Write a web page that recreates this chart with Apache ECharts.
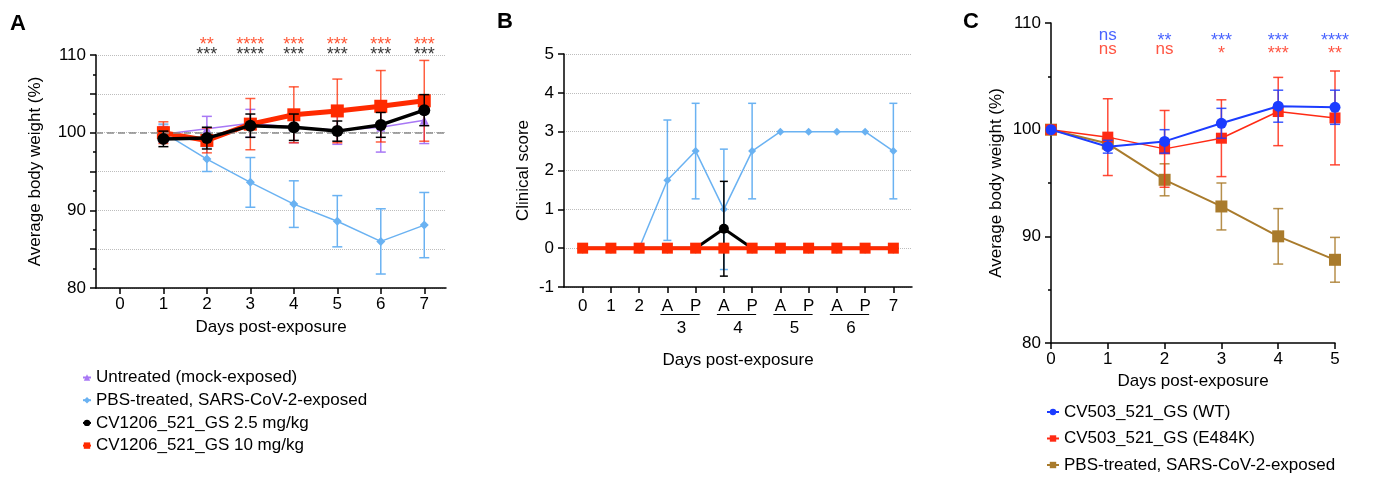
<!DOCTYPE html>
<html>
<head>
<meta charset="utf-8">
<script src="https://cdn.jsdelivr.net/npm/echarts@6/dist/echarts.min.js"></script>
<style>
  html, body { margin: 0; padding: 0; background: #fff; }
  #chart { width: 1374px; height: 478px; }
</style>
</head>
<body>
<div id="chart"></div>
<script>
// ---- panel A : body weight, CV1206_521_GS ----
const daysA = [1, 2, 3, 4, 5, 6, 7];
const tickDaysA = [0, 1, 2, 3, 4, 5, 6, 7];
const untreatedA = [99.8, 100.5, 101.2, 100.7, 100.3, 100.7, 101.6];
const untreatedErrA = [1.0, 1.6, 1.8, 2.0, 1.8, 3.2, 3.0];
const pbsA = [100.0, 96.6, 93.6, 90.8, 88.6, 86.0, 88.1];
const pbsErrA = [1.1, 1.6, 3.2, 3.0, 3.3, 4.2, 4.2];
const lowDoseA = [99.2, 99.3, 100.9, 100.7, 100.2, 101.0, 102.9];
const lowDoseErrA = [1.0, 1.4, 1.5, 1.7, 1.3, 1.6, 2.0];
const highDoseA = [100.0, 99.0, 101.1, 102.3, 102.8, 103.4, 104.1];
const highDoseErrA = [1.4, 1.6, 3.3, 3.6, 4.1, 4.6, 5.2];
const sigDaysA = [2, 3, 4, 5, 6, 7];
const sigHighA = ['**', '****', '***', '***', '***', '***'];
const sigLowA = ['***', '****', '***', '***', '***', '***'];

// ---- panel B : clinical score ----
const ticksB = ['0', '1', '2', 'A', 'P', 'A', 'P', 'A', 'P', 'A', 'P', '7'];
const dayGroupStartB = [3, 5, 7, 9];
const dayGroupLabelB = ['3', '4', '5', '6'];
const untreatedB = [0, 0, 0, 0, 0, 0, 0, 0, 0, 0, 0, 0];
const pbsB = [0, 0, 0, 1.75, 2.5, 1.0, 2.5, 3, 3, 3, 3, 2.5];
const pbsErrB = [0, 0, 0, 1.55, 1.23, 1.55, 1.23, 0, 0, 0, 0, 1.23];
const lowDoseB = [0, 0, 0, 0, 0, 0.5, 0, 0, 0, 0, 0, 0];
const lowDoseErrB = [0, 0, 0, 0, 0, 1.22, 0, 0, 0, 0, 0, 0];
const highDoseB = [0, 0, 0, 0, 0, 0, 0, 0, 0, 0, 0, 0];

// ---- panel C : body weight, CV503_521_GS ----
const daysC = [0, 1, 2, 3, 4, 5];
const wtC = [100.0, 98.4, 98.9, 100.6, 102.2, 102.1];
const wtErrC = [0, 0.6, 1.1, 1.4, 1.5, 1.6];
const e484kC = [100.0, 99.3, 98.2, 99.2, 101.7, 101.1];
const e484kErrC = [0, 3.6, 3.6, 3.6, 3.2, 4.4];
const pbsC = [100.0, 98.7, 95.3, 92.8, 90.0, 87.8];
const pbsErrC = [0, 0.4, 1.5, 2.2, 2.6, 2.1];
const sigDaysC = [1, 2, 3, 4, 5];
const sigWtC = ['ns', '**', '***', '***', '****'];
const sigE484kC = ['ns', 'ns', '*', '***', '**'];

const FONT = 'Liberation Sans';
const txt = { fontFamily: FONT, fontSize: 17, color: '#000' };
const axisLineStyle = { color: '#000', width: 1.5 };

const PURPLE = '#a878f5', LBLUE = '#6ab2f2', BLACK = '#000', RED = '#ff2a00';
const BLUE = '#1c3cff', CRED = '#ff2a14', BROWN = '#a97b2c';

const chart = echarts.init(document.getElementById('chart'));

function pts(xs, ys) {
  return xs.map((x, i) => [x, ys[i]]);
}

// vertical error bars with caps
function errorBars(name, xs, means, errs, color, axis, capW, width, z, opacity) {
  const data = [];
  xs.forEach((x, i) => {
    if (errs[i] > 0) data.push([x, means[i] - errs[i], means[i] + errs[i]]);
  });
  return {
    type: 'custom', name: name + ' err', xAxisIndex: axis, yAxisIndex: axis,
    data: data, z: z, silent: true, encode: { x: 0, y: [1, 2] },
    renderItem: function (params, api) {
      const lo = api.coord([api.value(0), api.value(1)]);
      const hi = api.coord([api.value(0), api.value(2)]);
      const style = { stroke: color, lineWidth: width, opacity: opacity || 1 };
      return {
        type: 'group', children: [
          { type: 'line', shape: { x1: lo[0], y1: lo[1], x2: hi[0], y2: hi[1] }, style: style },
          { type: 'line', shape: { x1: lo[0] - capW / 2, y1: lo[1], x2: lo[0] + capW / 2, y2: lo[1] }, style: style },
          { type: 'line', shape: { x1: hi[0] - capW / 2, y1: hi[1], x2: hi[0] + capW / 2, y2: hi[1] }, style: style }
        ]
      };
    }
  };
}

function lineSeries(name, xs, ys, color, axis, symbol, size, width, z) {
  return {
    type: 'line', name: name, xAxisIndex: axis, yAxisIndex: axis,
    data: pts(xs, ys), symbol: symbol, symbolSize: size, clip: false,
    lineStyle: { color: color, width: width }, itemStyle: { color: color, opacity: 1 },
    z: z, animation: false
  };
}

// significance labels, placed relative to a given y value
function sigSeries(xs, texts, yVal, color, axis, nsShift, starShift) {
  return {
    type: 'scatter', xAxisIndex: axis, yAxisIndex: axis, symbolSize: 0, clip: false, silent: true,
    data: xs.map((x, i) => {
      const star = texts[i].charAt(0) === '*';
      return {
        value: [x, yVal],
        label: {
          show: true, formatter: texts[i], color: color, fontFamily: FONT,
          fontSize: star ? 18 : 17, position: 'inside',
          offset: [0, star ? starShift : nsShift]
        }
      };
    }),
    z: 10
  };
}

function valueX(grid, min, max, ticks, fmt, name, nameGap, margin) {
  return {
    gridIndex: grid, type: 'value', min: min, max: max,
    axisLine: { show: true, onZero: false, lineStyle: axisLineStyle },
    axisTick: { show: true, length: 6, customValues: ticks, lineStyle: axisLineStyle },
    axisLabel: Object.assign({ customValues: ticks, margin: margin, formatter: fmt }, txt),
    splitLine: { show: false },
    name: name, nameLocation: 'middle', nameGap: nameGap, nameTextStyle: txt
  };
}

const LA = 'Untreated (mock-exposed)';
const LB = 'PBS-treated, SARS-CoV-2-exposed';
const LC = 'CV1206_521_GS 2.5 mg/kg';
const LD = 'CV1206_521_GS 10 mg/kg';
const LE = 'CV503_521_GS (WT)';
const LF = 'CV503_521_GS (E484K)';
const LG = 'PBS-treated, SARS-CoV-2-exposed ';

const option = {
  backgroundColor: '#fff',
  animation: false,
  title: [
    { text: 'A', left: 5, top: 8, textStyle: { fontFamily: FONT, fontSize: 22, fontWeight: 'bold', color: '#000' } },
    { text: 'B', left: 492, top: 6, textStyle: { fontFamily: FONT, fontSize: 22, fontWeight: 'bold', color: '#000' } },
    { text: 'C', left: 958, top: 6, textStyle: { fontFamily: FONT, fontSize: 22, fontWeight: 'bold', color: '#000' } }
  ],
  grid: [
    { left: 96, top: 55, width: 350, height: 233, outerBoundsMode: 'none' },
    { left: 564, top: 54, width: 348, height: 233, outerBoundsMode: 'none' },
    { left: 1051, top: 23, width: 284, height: 320, outerBoundsMode: 'none' }
  ],
  legend: [
    {
      orient: 'vertical', left: 82, top: 369, padding: 0, itemWidth: 8, itemHeight: 8, itemGap: 5.7,
      height: 108, selectedMode: false, data: [LA, LB, LC, LD],
      textStyle: Object.assign({ lineHeight: 17 }, txt)
    },
    {
      orient: 'vertical', left: 1046, top: 403.5, padding: 0, itemWidth: 12, itemHeight: 8, itemGap: 9.5,
      height: 74, selectedMode: false, data: [LE, LF, LG],
      textStyle: Object.assign({ lineHeight: 17 }, txt)
    }
  ],
  xAxis: [
    valueX(0, -0.55, 7.5, tickDaysA, v => String(Math.round(v)), 'Days post-exposure', 31, 8),
    valueX(1, -0.66, 11.66, ticksB.map((t, i) => i), v => ticksB[Math.round(v)], 'Days post-exposure', 65, 11),
    valueX(2, 0, 5, daysC, v => String(Math.round(v)), 'Days post-exposure', 29, 8)
  ],
  yAxis: [
    {
      gridIndex: 0, type: 'value', min: 80, max: 110, interval: 5,
      axisLine: { show: true, onZero: false, lineStyle: axisLineStyle },
      axisTick: { show: true, length: 6, lineStyle: axisLineStyle },
      minorTick: { show: true, splitNumber: 2, length: 3, lineStyle: axisLineStyle },
      axisLabel: Object.assign({ margin: 10, formatter: v => (v % 10 === 0 ? String(v) : '') }, txt),
      splitLine: { show: true, lineStyle: { type: 'dotted', color: '#bdbdbd', width: 1 } },
      name: 'Average body weight (%)', nameLocation: 'middle', nameGap: 52, nameTextStyle: txt
    },
    {
      gridIndex: 1, type: 'value', min: -1, max: 5, interval: 1,
      axisLine: { show: true, onZero: false, lineStyle: axisLineStyle },
      axisTick: { show: true, length: 6, lineStyle: axisLineStyle },
      axisLabel: Object.assign({ margin: 10 }, txt),
      splitLine: { show: true, lineStyle: { type: 'dotted', color: '#bdbdbd', width: 1 } },
      name: 'Clinical score', nameLocation: 'middle', nameGap: 32, nameTextStyle: txt
    },
    {
      gridIndex: 2, type: 'value', min: 80, max: 110, interval: 10,
      axisLine: { show: true, onZero: false, lineStyle: axisLineStyle },
      axisTick: { show: true, length: 6, lineStyle: axisLineStyle },
      minorTick: { show: true, splitNumber: 2, length: 3, lineStyle: axisLineStyle },
      axisLabel: Object.assign({ margin: 10 }, txt),
      splitLine: { show: false },
      name: 'Average body weight (%)', nameLocation: 'middle', nameGap: 46, nameTextStyle: txt
    }
  ],
  series: [
    // ---- A ----
    Object.assign(lineSeries('A ref', tickDaysA, tickDaysA.map(() => null), '#888', 0, 'none', 0, 1, 1), {
      markLine: {
        silent: true, symbol: 'none', label: { show: false },
        lineStyle: { type: [7, 4], color: '#8a8a8a', width: 1.5 },
        data: [{ yAxis: 100 }]
      }
    }),
    errorBars(LA, daysA, untreatedA, untreatedErrA, PURPLE, 0, 10, 1.5, 2),
    lineSeries(LA, daysA, untreatedA, PURPLE, 0, 'triangle', 9, 1.5, 2),
    errorBars(LB, daysA, pbsA, pbsErrA, LBLUE, 0, 10, 1.5, 3),
    lineSeries(LB, daysA, pbsA, LBLUE, 0, 'diamond', 9, 1.5, 3),
    errorBars(LD, daysA, highDoseA, highDoseErrA, RED, 0, 10, 1.5, 4, 0.75),
    lineSeries(LD, daysA, highDoseA, RED, 0, 'rect', 13, 5, 4),
    errorBars(LC, daysA, lowDoseA, lowDoseErrA, BLACK, 0, 10, 1.5, 5),
    lineSeries(LC, daysA, lowDoseA, BLACK, 0, 'circle', 12, 3.5, 5),
    sigSeries(sigDaysA, sigHighA, 110, RED, 0, -10, -10),
    sigSeries(sigDaysA, sigLowA, 110, BLACK, 0, 0, 0),

    // ---- B ----
    lineSeries('B untreated', ticksB.map((t, i) => i), untreatedB, PURPLE, 1, 'triangle', 7, 1.5, 2),
    errorBars('B pbs', ticksB.map((t, i) => i), pbsB, pbsErrB, LBLUE, 1, 8, 1.5, 3),
    lineSeries('B pbs', ticksB.map((t, i) => i), pbsB, LBLUE, 1, 'diamond', 8, 1.5, 3),
    errorBars('B low', ticksB.map((t, i) => i), lowDoseB, lowDoseErrB, BLACK, 1, 8, 1.5, 4),
    lineSeries('B low', ticksB.map((t, i) => i), lowDoseB, BLACK, 1, 'circle', 10, 3, 4),
    lineSeries('B high', ticksB.map((t, i) => i), highDoseB, RED, 1, 'rect', 11, 4, 5),
    {
      type: 'custom', xAxisIndex: 1, yAxisIndex: 1, silent: true, z: 6,
      data: dayGroupStartB.map(s => [s, s + 1]), encode: { x: [0, 1] },
      renderItem: function (params, api) {
        const a = api.coord([api.value(0), -1]);
        const p = api.coord([api.value(1), -1]);
        return {
          type: 'group', children: [
            { type: 'line', shape: { x1: a[0] - 7, y1: a[1] + 27.5, x2: p[0] + 4, y2: a[1] + 27.5 },
              style: { stroke: '#000', lineWidth: 1.2 } },
            { type: 'text', x: (a[0] + p[0]) / 2, y: a[1] + 41,
              style: { text: dayGroupLabelB[params.dataIndex], fill: '#000', font: '17px "Liberation Sans"',
                       textAlign: 'center', textVerticalAlign: 'middle' } }
          ]
        };
      }
    },

    // ---- C ----
    errorBars(LG, daysC, pbsC, pbsErrC, BROWN, 2, 10, 1.5, 2, 0.85),
    lineSeries(LG, daysC, pbsC, BROWN, 2, 'rect', 12, 2, 2),
    errorBars(LF, daysC, e484kC, e484kErrC, CRED, 2, 10, 1.5, 3, 0.85),
    lineSeries(LF, daysC, e484kC, CRED, 2, 'rect', 11, 1.5, 3),
    errorBars(LE, daysC, wtC, wtErrC, BLUE, 2, 10, 1.5, 4, 0.85),
    lineSeries(LE, daysC, wtC, BLUE, 2, 'circle', 11, 2, 4),
    sigSeries(sigDaysC, sigWtC, 110, BLUE, 2, 12, 18),
    sigSeries(sigDaysC, sigE484kC, 110, CRED, 2, 26, 31)
  ]
};

chart.setOption(option);
</script>
</body>
</html>
